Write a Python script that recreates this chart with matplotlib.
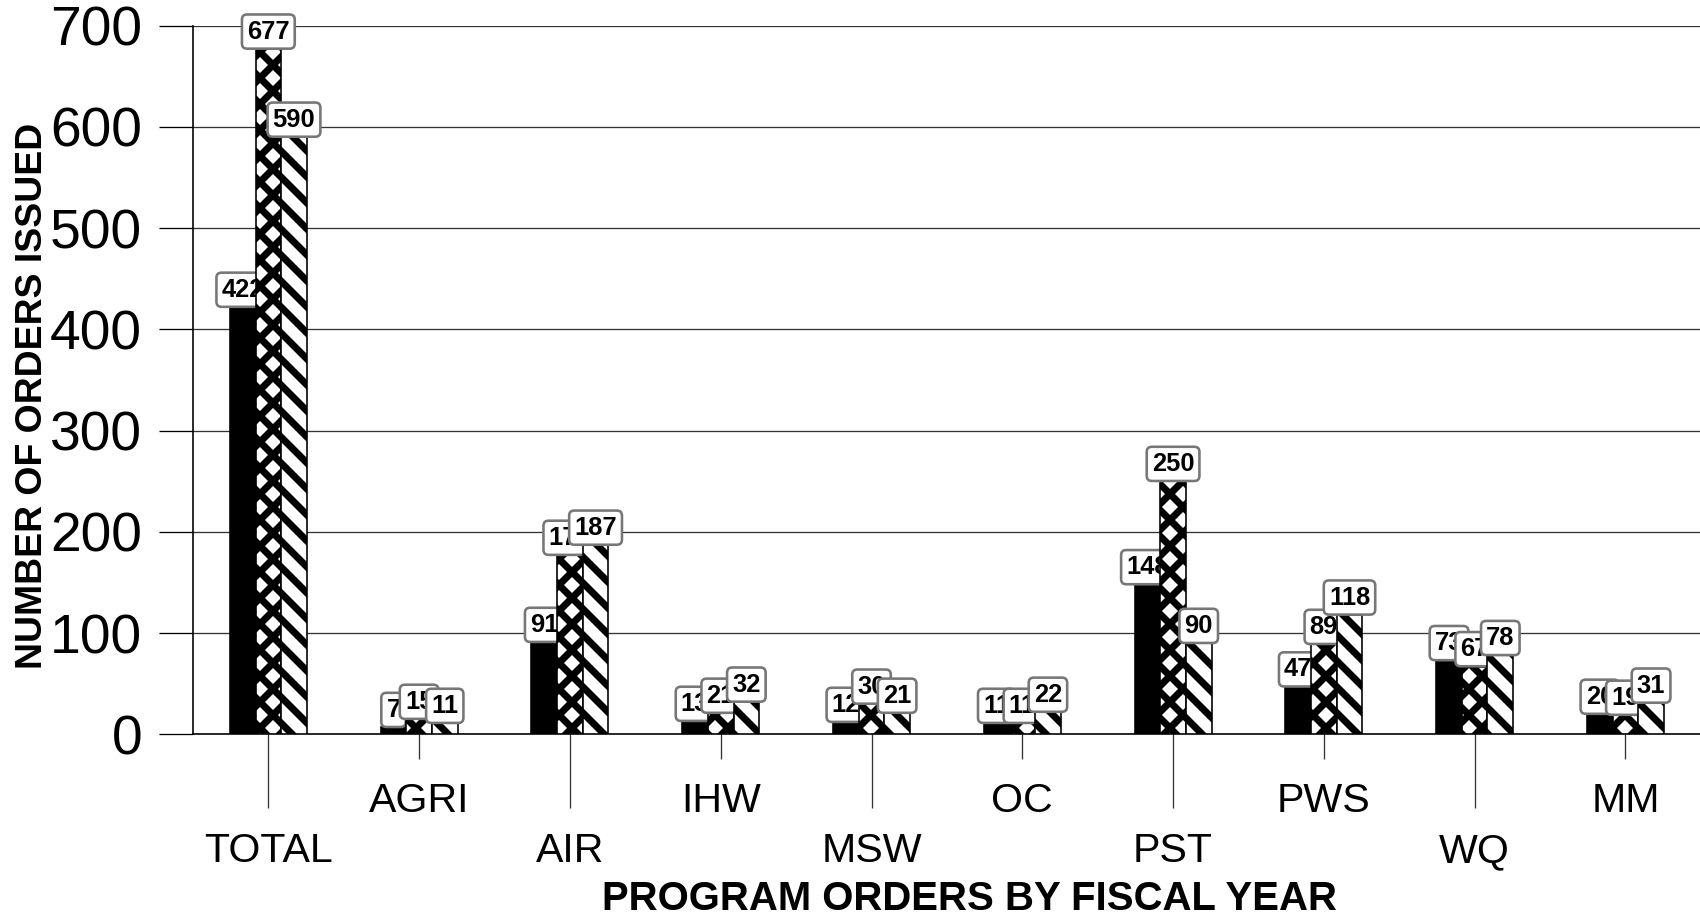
import matplotlib
matplotlib.use("Agg")
import matplotlib.pyplot as plt
import numpy as np

categories = ["TOTAL", "AGRI", "AIR", "IHW", "MSW", "OC", "PST", "PWS", "WQ", "MM"]
fy1 = [422, 7, 91, 13, 12, 11, 148, 47, 73, 20]
fy2 = [677, 15, 177, 21, 30, 11, 250, 89, 67, 19]
fy3 = [590, 11, 187, 32, 21, 22, 90, 118, 78, 31]
y_ticks = [0, 100, 200, 300, 400, 500, 600, 700]

plt.rcParams['font.family'] = ['Liberation Sans', 'DejaVu Sans']
plt.rcParams['hatch.linewidth'] = 6.5
plt.rcParams['hatch.color'] = 'black'

# dpi 78 so that the default hatch spacing comes out near the reference's 13 px
DPI = 78
fig = plt.figure(figsize=(1700 / DPI, 918 / DPI), dpi=DPI)
ax = fig.add_axes([0.1135, 0.2, 0.887, 0.772])

x = np.arange(len(categories))
w = 0.17
series = [(fy1, 'black', ''), (fy2, 'white', 'x'), (fy3, 'white', '\\')]

z = 3
for i, (vals, fc, hatch) in enumerate(series):
    bars = ax.bar(x + (i - 1) * w, vals, w, color=fc, edgecolor='black',
                  hatch=hatch, linewidth=1.5, zorder=z)
    for b, v in zip(bars, vals):
        ax.annotate(str(v), (b.get_x() + b.get_width() / 2, v),
                    xytext=(0, 5), textcoords='offset points',
                    ha='center', va='bottom', fontsize=23.5, fontweight='bold',
                    bbox=dict(boxstyle='round,pad=0.2', fc='white', ec='#777777', lw=2.4),
                    zorder=z + 1)
    z += 2

ax.set_xlim(-0.5, 9.5)
ax.set_ylim(0, 700)
ax.set_yticks(y_ticks)
ax.tick_params(axis='y', labelsize=51, length=31, width=1.2, pad=16, colors='black')
ax.grid(axis='y', color='#333333', linewidth=1.2, zorder=0)
ax.set_axisbelow(True)

ax.set_xticks(x[::2], [categories[k] for k in x[::2]])
ax.set_xticks(x[1::2], [categories[k] for k in x[1::2]], minor=True)
ax.tick_params(axis='x', which='major', labelsize=38, length=68, width=1.2, pad=22, color='#333333')
ax.tick_params(axis='x', which='minor', labelsize=38, length=23, width=1.2, pad=21, color='#333333')

for s in ['top', 'right']:
    ax.spines[s].set_visible(False)
ax.spines['left'].set_linewidth(1.5)
ax.spines['bottom'].set_linewidth(1.5)

ax.set_ylabel("NUMBER OF ORDERS ISSUED", fontsize=34.5, fontweight='bold')
ax.yaxis.set_label_coords(-0.095, 0.478)
ax.set_xlabel("PROGRAM ORDERS BY FISCAL YEAR", fontsize=37, fontweight='bold')
ax.xaxis.set_label_coords(0.515, -0.205)

fig.savefig("out.png", dpi=DPI)
